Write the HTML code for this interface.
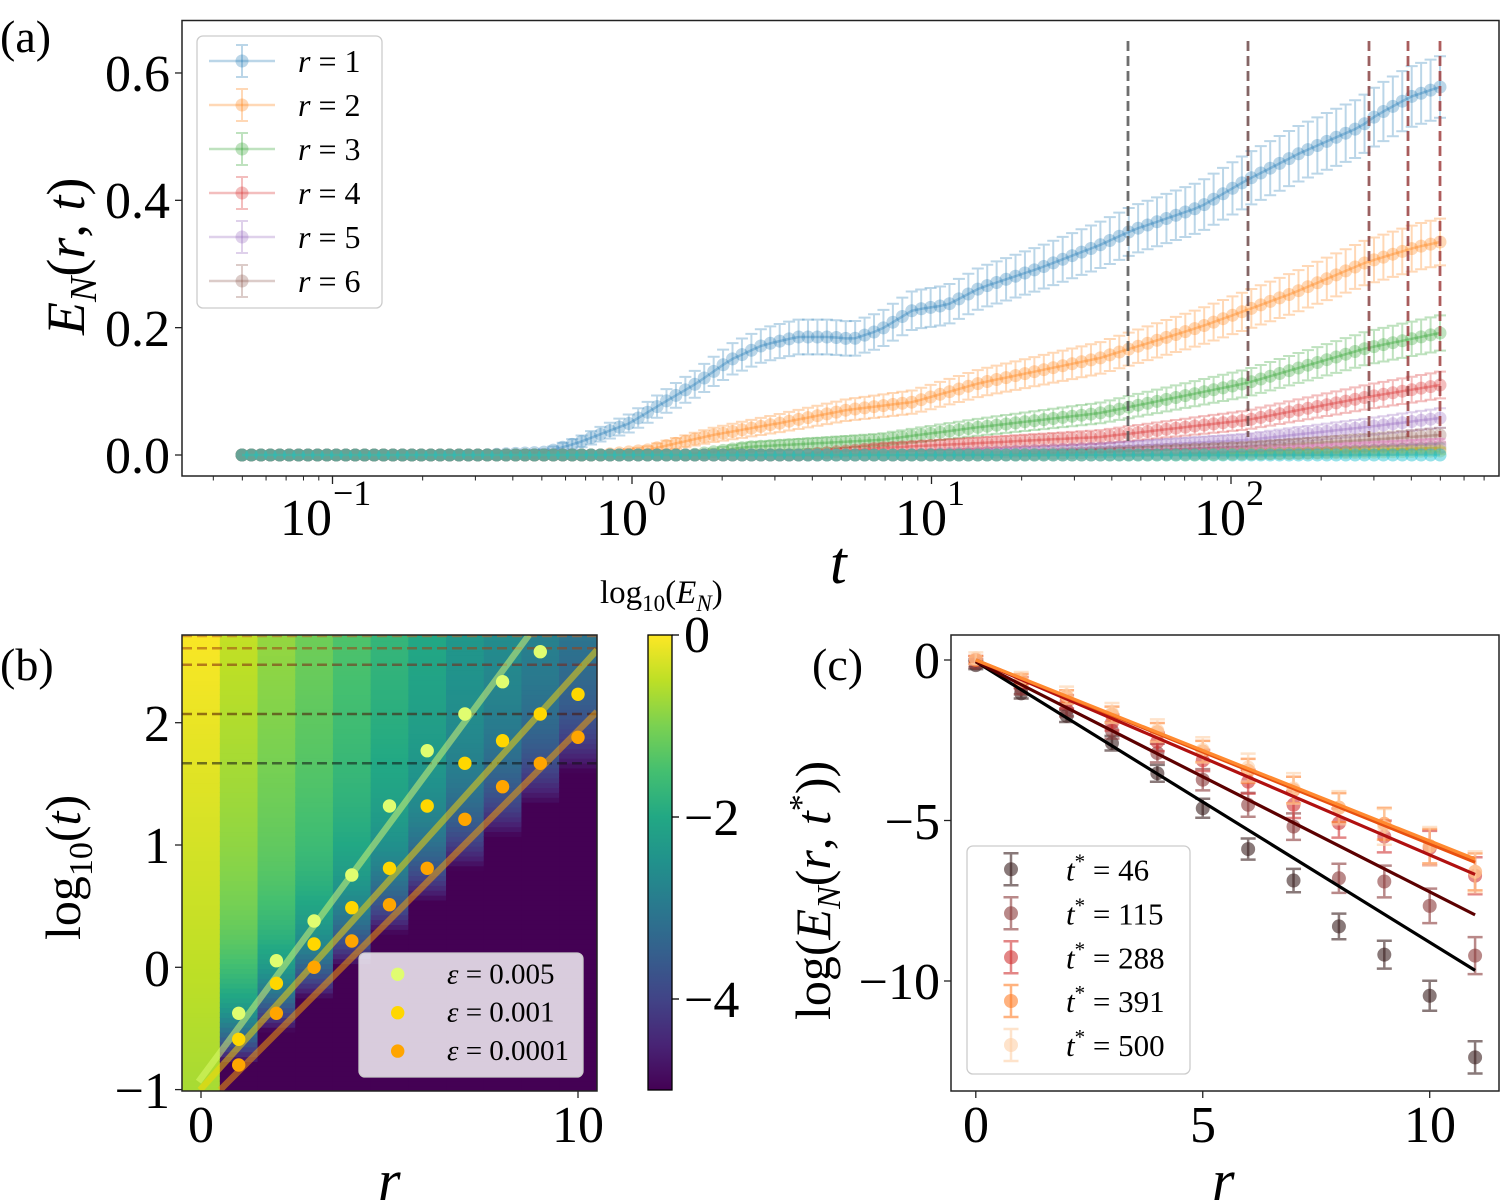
<!DOCTYPE html>
<html><head><meta charset="utf-8"><style>
html,body{margin:0;padding:0;background:#fff}
svg{display:block}
text{font-family:"Liberation Serif","DejaVu Serif",serif;fill:#000}
.it{font-style:italic}
</style></head><body>
<svg id="s" width="1501" height="1200" viewBox="0 0 1501 1200" xmlns="http://www.w3.org/2000/svg">
<defs>
<linearGradient id="vir" x1="0" y1="1" x2="0" y2="0">
<stop offset="0" stop-color="#440154"/><stop offset="0.1" stop-color="#482475"/><stop offset="0.2" stop-color="#414487"/><stop offset="0.3" stop-color="#355f8d"/><stop offset="0.4" stop-color="#2a788e"/><stop offset="0.5" stop-color="#21918c"/><stop offset="0.6" stop-color="#22a884"/><stop offset="0.7" stop-color="#44bf70"/><stop offset="0.8" stop-color="#7ad151"/><stop offset="0.9" stop-color="#bddf26"/><stop offset="1" stop-color="#fde725"/>
</linearGradient>
<clipPath id="cb"><rect x="182" y="635" width="415" height="456"/></clipPath>
<clipPath id="cc"><rect x="951" y="635" width="548" height="456"/></clipPath>
</defs>
<g id="heat" clip-path="url(#cb)"></g>
<g id="pa"></g>
<g id="pb"></g>
<g id="pc"></g>
<g id="txt">
<text x="0" y="52" font-size="46">(a)</text>
<g font-size="52" text-anchor="end">
<text x="170" y="473">0.0</text><text x="170" y="346">0.2</text><text x="170" y="218">0.4</text><text x="170" y="91">0.6</text>
</g>
<g font-size="52">
<text x="280" y="535">10</text><text x="333" y="505" font-size="36">−1</text>
<text x="596" y="535">10</text><text x="648" y="505" font-size="36">0</text>
<text x="895" y="535">10</text><text x="947" y="505" font-size="36">1</text>
<text x="1194" y="535">10</text><text x="1246" y="505" font-size="36">2</text>
</g>
<text x="830" y="583" font-size="60" class="it">t</text>
<text transform="translate(84,335) rotate(-90)" font-size="54"><tspan class="it">E</tspan><tspan class="it" font-size="38" dy="12">N</tspan><tspan dy="-12">(</tspan><tspan class="it">r</tspan><tspan>, </tspan><tspan class="it">t</tspan><tspan>)</tspan></text>
<text x="0" y="680" font-size="46">(b)</text>
<g font-size="52" text-anchor="end">
<text x="170" y="741">2</text><text x="170" y="863">1</text><text x="170" y="986">0</text><text x="170" y="1108">−1</text>
</g>
<g font-size="52" text-anchor="middle"><text x="201" y="1142">0</text><text x="578" y="1142">10</text></g>
<text x="378" y="1200" font-size="58" class="it">r</text>
<text transform="translate(80,940) rotate(-90)" font-size="50">log<tspan font-size="34" dy="12">10</tspan><tspan dy="-12">(</tspan><tspan class="it">t</tspan>)</text>
<rect x="648" y="635" width="24" height="455" fill="url(#vir)" stroke="#000" stroke-width="1.3"/>
<g stroke="#000" stroke-width="1.3"><line x1="672" y1="635" x2="679" y2="635"/><line x1="672" y1="817" x2="679" y2="817"/><line x1="672" y1="999" x2="679" y2="999"/></g>
<g font-size="52"><text x="684" y="652">0</text><text x="684" y="835">−2</text><text x="684" y="1017">−4</text></g>
<text x="600" y="603" font-size="33">log<tspan font-size="23" dy="8">10</tspan><tspan dy="-8">(</tspan><tspan class="it">E</tspan><tspan class="it" font-size="23" dy="8">N</tspan><tspan dy="-8">)</tspan></text>
<text x="812" y="680" font-size="46">(c)</text>
<g font-size="52" text-anchor="end">
<text x="940" y="678">0</text><text x="940" y="839">−5</text><text x="940" y="999">−10</text>
</g>
<g font-size="52" text-anchor="middle"><text x="976" y="1142">0</text><text x="1203" y="1142">5</text><text x="1430" y="1142">10</text></g>
<text x="1212" y="1200" font-size="58" class="it">r</text>
<text transform="translate(830,1020) rotate(-90)" font-size="50">log(<tspan class="it">E</tspan><tspan class="it" font-size="34" dy="10">N</tspan><tspan dy="-10">(</tspan><tspan class="it">r</tspan>, <tspan class="it">t</tspan><tspan font-size="34" dy="-18">*</tspan><tspan dy="18">))</tspan></text>
</g>
</svg>
<script>
(function(){
var NS="http://www.w3.org/2000/svg";
function el(p,n,a){var e=document.createElementNS(NS,n);for(var k in a)e.setAttribute(k,a[k]);p.appendChild(e);return e;}
function txt(p,x,y,s,fs,html){var t=el(p,"text",{x:x,y:y,"font-size":fs});t.innerHTML=html;return t;}
var pa=document.getElementById("pa"),pb=document.getElementById("pb"),pc=document.getElementById("pc"),heat=document.getElementById("heat");
var V=[[68,1,84],[72,36,117],[65,68,135],[53,95,141],[42,120,142],[33,145,140],[34,168,132],[68,191,112],[122,209,81],[189,223,38],[253,231,37]];
function vir(f){f=Math.max(0,Math.min(1,f));var i=Math.min(9,Math.floor(f*10)),u=f*10-i;var a=V[i],b=V[i+1];
return "rgb("+[0,1,2].map(function(k){return Math.round(a[k]+(b[k]-a[k])*u)}).join(",")+")";}
function X(t){return 632+299.5*Math.log10(t);}
var cols=["#1f77b4","#ff7f0e","#2ca02c","#d62728","#9467bd","#8c564b","#e377c2","#7f7f7f","#bcbd22","#17becf"];
var S=[
[[242,455],[480,455],[547,452],[580,442],[630,423],[663,403],[697,383],[730,360],[763,345],[797,337],[830,337],[853,339],[880,330],[913,310],[947,305],[980,288],[1040,268],[1100,245],[1133,230],[1200,207],[1247,180],[1300,153],[1360,127],[1377,115],[1410,97],[1440,87]],
[[242,455],[600,455],[647,450],[713,435],[780,423],[847,410],[913,402],[980,383],[1100,358],[1200,327],[1247,310],[1293,293],[1367,262],[1417,247],[1440,242]],
[[242,455],[690,455],[747,447],[880,440],[980,427],[1100,413],[1247,383],[1367,348],[1440,333]],
[[242,455],[800,455],[880,448],[980,443],[1100,437],[1247,420],[1367,397],[1440,385]],
[[242,455],[900,455],[1000,452],[1100,448],[1247,440],[1367,427],[1440,418]],
[[242,455],[1000,455],[1100,452],[1247,447],[1367,440],[1440,435]],
[[242,455],[1100,455],[1247,452],[1440,444]],
[[242,455],[1150,455],[1300,453],[1440,448]],
[[242,455],[1200,455],[1440,451]],
[[242,455],[1440,455]]
];
function interp(pts,x){for(var i=0;i<pts.length-1;i++){if(x<=pts[i+1][0]){var a=pts[i],b=pts[i+1];return a[1]+(b[1]-a[1])*(x-a[0])/(b[0]-a[0]);}}return pts[pts.length-1][1];}
var N=127;
for(var s=0;s<10;s++){
 var c=cols[s],pts=S[s],d="",g=el(pa,"g",{});
 var eb=el(g,"g",{stroke:c,"stroke-opacity":0.3,"stroke-width":2,fill:"none"});
 var mk=el(g,"g",{fill:c,"fill-opacity":s==9?0.45:0.3});
 for(var i=0;i<=N;i++){
  var x=242+(1440-242)*i/N,y=interp(pts,x);
  d+=(i?"L":"M")+x.toFixed(1)+","+y.toFixed(1);
  var e=1.6*Math.sqrt(Math.max(0,455-y));
  if(e>1){el(eb,"path",{d:"M"+x+","+(y-e)+"V"+(y+e)+"M"+(x-6)+","+(y-e)+"H"+(x+6)+"M"+(x-6)+","+(y+e)+"H"+(x+6)});}
  el(mk,"circle",{cx:x.toFixed(1),cy:y.toFixed(1),r:6.5});
 }
 el(g,"path",{d:d,stroke:c,"stroke-opacity":0.35,"stroke-width":2.5,fill:"none"});
}
var dx=[1128,1248,1369,1408,1440],dc=["#555","#6e4a4a","#8a4545","#9a4040","#a04040"],dy2=[443,437,437,437,437];
for(var i=0;i<5;i++)el(pa,"line",{x1:dx[i],y1:41,x2:dx[i],y2:dy2[i],stroke:dc[i],"stroke-width":2.8,"stroke-dasharray":"10,5","stroke-opacity":0.85});
el(pa,"rect",{x:182,y:20.5,width:1317,height:455.5,fill:"none",stroke:"#222","stroke-width":1.5});
[0,0.2,0.4,0.6].forEach(function(v){var y=455-636.7*v;el(pa,"line",{x1:175,y1:y,x2:182,y2:y,stroke:"#222","stroke-width":1.3});});
for(var dec=-2;dec<=2;dec++){for(var m=1;m<10;m++){var x=X(m*Math.pow(10,dec));if(x<183||x>1498)continue;el(pa,"line",{x1:x,y1:476,x2:x,y2:476+(m==1?8:4.5),stroke:"#222","stroke-width":m==1?1.3:1});}}
el(pa,"rect",{x:197,y:36,width:185,height:272,rx:6,fill:"#fff","fill-opacity":0.8,stroke:"#ccc","stroke-width":1.3});
for(var i=0;i<6;i++){var y=61+44*i,c=cols[i];
 el(pa,"line",{x1:209,y1:y,x2:275,y2:y,stroke:c,"stroke-opacity":0.3,"stroke-width":2.5});
 el(pa,"path",{d:"M242,"+(y-16)+"V"+(y+16)+"M236,"+(y-16)+"H248M236,"+(y+16)+"H248",stroke:c,"stroke-opacity":0.3,"stroke-width":2,fill:"none"});
 el(pa,"circle",{cx:242,cy:y,r:6.5,fill:c,"fill-opacity":0.3});
 txt(pa,298,y+11,0,32,'<tspan class="it">r</tspan> = '+(i+1));
}
function BY(L){return 722.7-122.3*(L-2);}
function BX(r){return 201+37.7*r;}
var vtop=[-0.03,-0.45,-0.8,-1.1,-1.4,-1.7,-2.0,-2.35,-2.55,-2.75,-2.95];
var Lmin=-1.05,Lmax=2.75,dL=0.04;
for(var r=0;r<=10;r++){
 var L0=-1.05+0.265*r;
 for(var L=Lmin;L<Lmax;L+=dL){
  var Lc=L+dL/2,v;
  if(r==0)v=-0.03-0.17*(2.72-Lc);
  else{var vs=vtop[r]-0.2*(2.72-Lc);v=(Lc<L0)?-5:vs-(-5-vs<0?(5+vs):0)*Math.exp(-(Lc-L0)/0.4);}
  v=Math.max(-5,Math.min(0,v));
  var y1=BY(L+dL),y0=BY(L);
  el(heat,"rect",{x:(BX(r)-18.85).toFixed(2),y:(y1-0.5).toFixed(2),width:38.7,height:(y0-y1+1).toFixed(2),fill:vir((v+5)/5)});
 }
}
var hy=[636,648.3,664.7,714,763.3];
for(var i=0;i<5;i++)el(heat,"line",{x1:182,y1:hy[i],x2:597,y2:hy[i],stroke:["#c06020","#a04010","#802010","#4a1000","#101010"][i],"stroke-opacity":0.55,"stroke-width":2.5,"stroke-dasharray":"10,5"});
var lg=el(heat,"g",{"stroke-width":6.5,"stroke-opacity":0.5});
el(lg,"line",{x1:198.5,y1:1081.7,x2:529,y2:635,stroke:"#e0fd70"});
el(lg,"line",{x1:200,y1:1090,x2:597,y2:650,stroke:"#ffd700"});
el(lg,"line",{x1:220,y1:1090,x2:597,y2:711.7,stroke:"#ffa500"});
var D=[[1013.3,960.7,921,875,806,750.7,714,681.7,651.7],[1039.3,983.3,944,907.7,868.3,806,763.3,740.7,714,694.3],[1065,1013.3,967.3,941,904.7,868.3,819.3,786.7,763.3,737.3]];
var dcol=["#e0fd70","#ffd700","#ffa500"];
for(var k=0;k<3;k++)for(var i=0;i<D[k].length;i++)el(heat,"circle",{cx:BX(i+1),cy:D[k][i],r:6.7,fill:dcol[k]});
el(pb,"rect",{x:359,y:953,width:224,height:124,rx:6,fill:"#fff","fill-opacity":0.8,stroke:"#ccc","stroke-width":1.3});
var el_=["0.005","0.001","0.0001"];
for(var k=0;k<3;k++){var y=974.3+38.4*k;el(pb,"circle",{cx:397.7,cy:y,r:6.7,fill:dcol[k]});
 txt(pb,447,y+9,0,29,'<tspan class="it">ε</tspan> = '+el_[k]);}
el(pb,"rect",{x:182,y:635,width:415,height:456,fill:"none",stroke:"#222","stroke-width":1.5});
[2,1,0,-1].forEach(function(v){var y=BY(v);el(pb,"line",{x1:175,y1:y,x2:182,y2:y,stroke:"#222","stroke-width":1.3});});
[0,10].forEach(function(r){var x=BX(r);el(pb,"line",{x1:x,y1:1091,x2:x,y2:1098,stroke:"#222","stroke-width":1.3});});
function CX(r){return 975.8+45.39*r;}
function CY(v){return 660-32.1*v;}
var cc=document.createElementNS(NS,"g");cc.setAttribute("clip-path","url(#cc)");pc.appendChild(cc);
var P=[
[-0.16,-1.04,-1.74,-2.59,-3.53,-4.62,-5.89,-6.87,-8.3,-9.18,-10.46,-12.38],
[-0.1,-0.9,-1.55,-2.2,-2.9,-3.73,-4.51,-5.19,-6.8,-6.9,-7.66,-9.21],
[0,-0.7,-1.3,-1.95,-2.55,-3.13,-3.79,-4.51,-5.08,-5.5,-5.86,-6.72],
[0,-0.6,-1.15,-1.7,-2.25,-2.85,-3.45,-4.05,-4.6,-5.1,-5.8,-6.6],
[0.05,-0.6,-1.1,-1.65,-2.2,-2.8,-3.35,-4.0,-4.6,-5.2,-5.8,-6.6]];
var pcol=["#3a2020","#8b3a3a","#d03535","#ff7f2a","#fdd0a8"];
var lcol=["#000","#5c0000","#b01010","#e85010","#ff8a30"];
var lend=[-9.67,-7.94,-6.68,-6.3,-6.2];
for(var k=0;k<5;k++){var g=el(cc,"g",{});
 for(var i=0;i<12;i++){var x=CX(i),y=CY(P[k][i]);var e=4+(k==0?1.0:1.2)*i*1.1+(k==4?2:0);
  el(g,"path",{d:"M"+x+","+(y-e)+"V"+(y+e)+"M"+(x-7.5)+","+(y-e)+"H"+(x+7.5)+"M"+(x-7.5)+","+(y+e)+"H"+(x+7.5),stroke:pcol[k],"stroke-opacity":0.6,"stroke-width":2.5,fill:"none"});
  el(g,"circle",{cx:x,cy:y,r:7,fill:pcol[k],"fill-opacity":0.6});}
}
for(var k=0;k<5;k++)el(cc,"line",{x1:CX(0),y1:CY(k<2?-0.05:0),x2:CX(11),y2:CY(lend[k]),stroke:lcol[k],"stroke-width":3.2});
el(pc,"rect",{x:967,y:846,width:223,height:228,rx:6,fill:"#fff","fill-opacity":0.8,stroke:"#ccc","stroke-width":1.3});
var tl=["46","115","288","391","500"],ly=[869.3,913.3,957.3,1001,1045];
for(var k=0;k<5;k++){var x=1011,y=ly[k];
 el(pc,"path",{d:"M"+x+","+(y-16)+"V"+(y+16)+"M"+(x-7.5)+","+(y-16)+"H"+(x+7.5)+"M"+(x-7.5)+","+(y+16)+"H"+(x+7.5),stroke:pcol[k],"stroke-opacity":0.6,"stroke-width":2.5,fill:"none"});
 el(pc,"circle",{cx:x,cy:y,r:7,fill:pcol[k],"fill-opacity":0.6});
 txt(pc,1066,y+11,0,31,'<tspan class="it">t</tspan><tspan font-size="21" dy="-12">*</tspan><tspan dy="12"> = '+tl[k]+'</tspan>');}
el(pc,"rect",{x:951,y:635,width:548,height:456,fill:"none",stroke:"#222","stroke-width":1.5});
[0,-5,-10].forEach(function(v){var y=CY(v);el(pc,"line",{x1:944,y1:y,x2:951,y2:y,stroke:"#222","stroke-width":1.3});});
[0,5,10].forEach(function(r){var x=CX(r);el(pc,"line",{x1:x,y1:1091,x2:x,y2:1098,stroke:"#222","stroke-width":1.3});});
})();
</script>
</body></html>
